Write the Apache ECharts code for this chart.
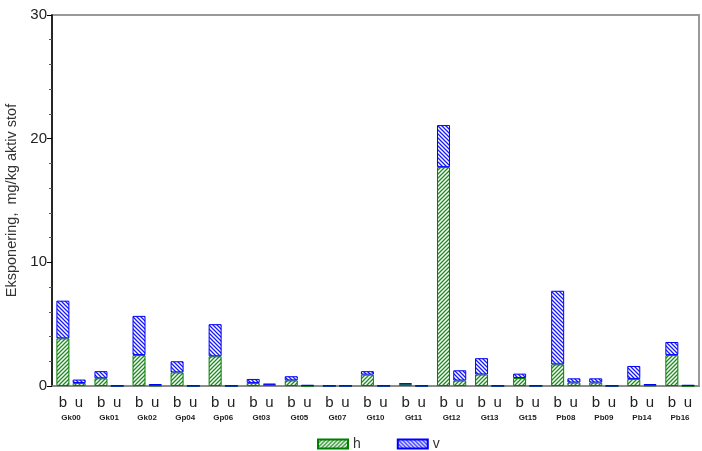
<!DOCTYPE html>
<html>
<head>
<meta charset="utf-8">
<script src="https://cdn.jsdelivr.net/npm/echarts@6/dist/echarts.min.js"></script>
<style>
  html, body { margin: 0; padding: 0; background: #fff; }
  #chart { width: 702px; height: 451px; }
</style>
</head>
<body>
<div id="chart"></div>
<script>
// grupper (prøvesteder)
var groups = ['Gk00', 'Gk01', 'Gk02', 'Gp04', 'Gp06', 'Gt03', 'Gt05', 'Gt07', 'Gt10',
              'Gt11', 'Gt12', 'Gt13', 'Gt15', 'Pb08', 'Pb09', 'Pb14', 'Pb16'];
// b-søjler
var hB = [3.85, 0.62, 2.5, 1.1, 2.4, 0.25, 0.45, 0, 0.92, 0.15, 17.7, 0.93, 0.65, 1.75, 0.28, 0.57, 2.5];
var vB = [3.05, 0.58, 3.17, 0.9, 2.6, 0.32, 0.34, 0.03, 0.28, 0.07, 3.4, 1.32, 0.35, 5.95, 0.34, 1.05, 1.06];
// u-søjler
var hU = [0.24, 0, 0.04, 0, 0, 0.1, 0, 0, 0, 0, 0.44, 0, 0, 0.28, 0, 0.05, 0];
var vU = [0.28, 0.03, 0.12, 0.03, 0.03, 0.09, 0.1, 0.03, 0.03, 0.03, 0.83, 0.03, 0.03, 0.34, 0.03, 0.11, 0.1];
var yTicks = [0, 10, 20, 30];

// skravering
function hatch(color, dir) {
  var c = document.createElement('canvas');
  c.width = 4; c.height = 4;
  var ctx = c.getContext('2d');
  ctx.fillStyle = '#fff';
  ctx.fillRect(0, 0, 4, 4);
  ctx.strokeStyle = color;
  ctx.lineWidth = 1.3;
  ctx.beginPath();
  if (dir === '/') {
    ctx.moveTo(0, 4); ctx.lineTo(4, 0);
    ctx.moveTo(-1, 1); ctx.lineTo(1, -1);
    ctx.moveTo(3, 5); ctx.lineTo(5, 3);
  } else {
    ctx.moveTo(0, 0); ctx.lineTo(4, 4);
    ctx.moveTo(-1, 3); ctx.lineTo(1, 5);
    ctx.moveTo(3, -1); ctx.lineTo(5, 1);
  }
  ctx.stroke();
  return { image: c, repeat: 'repeat' };
}
var greenFill = hatch('#1f8a1f', '/');
var blueFill = hatch('#1a1aff', '\\');

var hStyle = { color: greenFill, borderColor: '#008000', borderWidth: 1 };
var vStyle = { color: blueFill, borderColor: '#0000ff', borderWidth: 1 };

var myChart = echarts.init(document.getElementById('chart'));
var option = {
  animation: false,
  textStyle: { fontFamily: 'Liberation Sans' },
  grid: {
    left: 52, right: 3, top: 15, bottom: 65,
    outerBoundsMode: 'none',
    containLabel: false,
    show: true, borderColor: '#999', borderWidth: 2, backgroundColor: 'transparent'
  },
  legend: {
    data: ['h', 'v'],
    left: 312, top: 432,
    itemWidth: 30, itemHeight: 9, itemGap: 36,
    icon: 'rect',
    textStyle: { fontSize: 14, color: '#333' }
  },
  xAxis: {
    type: 'category',
    data: groups,
    axisLine: { lineStyle: { color: '#888', width: 1.5 } },
    axisTick: { show: false },
    axisLabel: {
      interval: 0,
      margin: 8,
      formatter: function (v) { return '{bu|b}{bu|u}\n{g|' + v + '}'; },
      rich: {
        bu: { fontSize: 15, color: '#222', width: 16, align: 'center', lineHeight: 17 },
        g: { fontSize: 8, fontWeight: 'bold', color: '#222', padding: [3, 0, 0, 0] }
      }
    }
  },
  yAxis: {
    type: 'value',
    min: yTicks[0], max: yTicks[yTicks.length - 1], interval: 10,
    name: 'Eksponering,  mg/kg aktiv stof',
    nameLocation: 'middle',
    nameGap: 33,
    nameTextStyle: { fontSize: 14.5, color: '#333' },
    axisLine: { show: true, lineStyle: { color: '#000', width: 1.5 } },
    axisTick: { show: true, inside: false, length: 5, lineStyle: { color: '#000' } },
    minorTick: { show: true, splitNumber: 5, length: 3, lineStyle: { color: '#555' } },
    splitLine: { show: false },
    axisLabel: { fontSize: 15, color: '#222', margin: 5 }
  },
  series: [
    { name: 'h', type: 'bar', stack: 'b', data: hB, itemStyle: hStyle, barWidth: 13, barGap: '25%' },
    { name: 'v', type: 'bar', stack: 'b', data: vB, itemStyle: vStyle, barWidth: 13, barGap: '25%' },
    { name: 'h', type: 'bar', stack: 'u', data: hU, itemStyle: hStyle, barWidth: 13, barGap: '25%' },
    { name: 'v', type: 'bar', stack: 'u', data: vU, itemStyle: vStyle, barWidth: 13, barGap: '25%' }
  ]
};
myChart.setOption(option);
</script>
</body>
</html>
